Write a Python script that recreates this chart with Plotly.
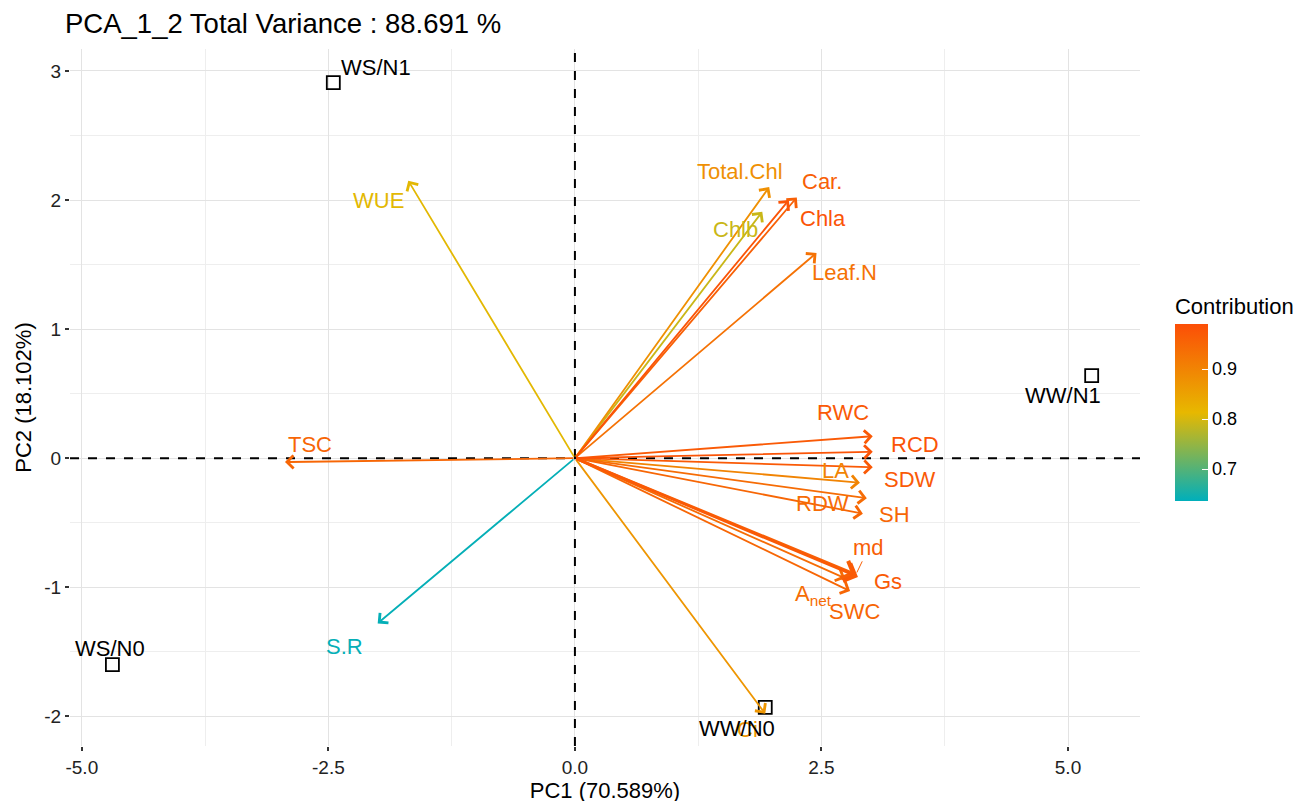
import plotly.graph_objects as go
from plotly.colors import sample_colorscale

# ---------------- data ----------------
samples = ["WS/N1", "WW/N1", "WS/N0", "WW/N0"]
sample_pc1 = [-2.45, 5.24, -4.69, 1.93]
sample_pc2 = [2.91, 0.64, -1.60, -1.93]

variables = ["WUE", "Total.Chl", "Car.", "Chla", "Chlb", "Leaf.N", "RWC", "RCD",
             "SDW", "LA", "RDW", "SH", "md", "Gs", "SWC", "A<sub>net</sub>",
             "TSC", "S.R", "Ci"]
var_pc1 = [-1.69, 1.97, 2.25, 2.17, 1.90, 2.45, 3.02, 3.02,
           3.02, 2.89, 2.96, 2.92, 2.85, 2.87, 2.79, 2.74,
           -2.94, -2.00, 1.93]
var_pc2 = [2.15, 2.10, 2.02, 2.00, 1.91, 1.59, 0.17, 0.05,
           -0.07, -0.19, -0.31, -0.43, -0.90, -0.92, -1.03, -0.93,
           -0.03, -1.28, -1.98]
contribution = [0.81, 0.88, 0.96, 0.98, 0.79, 0.93, 0.97, 0.98,
                0.97, 0.90, 0.94, 0.95, 0.96, 0.97, 0.95, 0.94,
                0.95, 0.64, 0.87]

x_tickvals = [-5.0, -2.5, 0.0, 2.5, 5.0]
x_ticktext = ["-5.0", "-2.5", "0.0", "2.5", "5.0"]
y_tickvals = [-2, -1, 0, 1, 2, 3]
y_ticktext = ["-2", "-1", "0", "1", "2", "3"]
cbar_ticks = [0.7, 0.8, 0.9]

# ---------------- styles (pixel offsets of labels from points) ----------------
var_label_dx = [-30, -29, 25, 34, -27, 28, -30, 42, 37, -24, -44, 32, 13, 30, 4, -32, 25, -33, -18]
var_label_dy = [-20, 16, 16, -18, -18, -20, 24, 7, -12, 12, -5, -1, 27, -5, -20, -17, 18, -23, -16]
sample_label_dx = [43, -29, -2, -28]
sample_label_dy = [15, -20, 16, -21]

CMIN, CMAX = 0.636, 0.99
cscale = [[0.0, "#00AFBB"], [0.5, "#E7B800"], [1.0, "#FC4E07"]]
norm = [(c - CMIN) / (CMAX - CMIN) for c in contribution]
norm = [min(1, max(0, v)) for v in norm]
colors = sample_colorscale(cscale, norm)

FONT = "Liberation Sans, Arial, sans-serif"
LABEL_SIZE = 22

fig = go.Figure()

# colour bar carrier (invisible markers at arrow tips)
fig.add_trace(go.Scatter(
    x=var_pc1, y=var_pc2, mode="markers", hoverinfo="skip", showlegend=False,
    marker=dict(size=1, opacity=0, color=contribution, colorscale=cscale,
                cmin=CMIN, cmax=CMAX, showscale=True,
                colorbar=dict(
                    title=dict(text="Contribution", side="top",
                               font=dict(size=22, color="black", family=FONT)),
                    tickvals=cbar_ticks, ticktext=[str(t) for t in cbar_ticks],
                    tickfont=dict(size=18, color="black", family=FONT),
                    ticks="inside", tickcolor="white", ticklen=6,
                    thickness=33, lenmode="pixels", len=207, xpad=0, ypad=0,
                    x=1.0327, xanchor="left", y=0.5, yanchor="middle",
                    outlinewidth=0))))

# sample points
fig.add_trace(go.Scatter(
    x=sample_pc1, y=sample_pc2, mode="markers", showlegend=False,
    marker=dict(symbol="square-open", size=13, color="black", line=dict(width=1.8))))

annotations = []
# variable arrows
order = sorted(range(len(variables)), key=lambda i: contribution[i])
for i in order:
    w = 2.6 if variables[i] in ("md", "Gs") else 1.8
    annotations.append(dict(
        x=var_pc1[i], y=var_pc2[i], ax=0, ay=0, xref="x", yref="y",
        axref="x", ayref="y", text="", showarrow=True, arrowhead=4,
        arrowsize=1.4, arrowwidth=w, arrowcolor=colors[i], standoff=0))
# variable labels
for i, v in enumerate(variables):
    if v == "md":
        annotations.append(dict(
            x=var_pc1[i], y=var_pc2[i], xref="x", yref="y", text=v,
            showarrow=True, arrowhead=0, arrowwidth=1, arrowcolor=colors[i],
            ax=var_label_dx[i], ay=-var_label_dy[i], standoff=2,
            font=dict(size=LABEL_SIZE, color=colors[i], family=FONT)))
    else:
        annotations.append(dict(
            x=var_pc1[i], y=var_pc2[i], xref="x", yref="y", text=v,
            showarrow=False, xshift=var_label_dx[i], yshift=var_label_dy[i],
            font=dict(size=LABEL_SIZE, color=colors[i], family=FONT)))
# sample labels
for i, s in enumerate(samples):
    annotations.append(dict(
        x=sample_pc1[i], y=sample_pc2[i], xref="x", yref="y", text=s,
        showarrow=False, xshift=sample_label_dx[i], yshift=sample_label_dy[i],
        font=dict(size=LABEL_SIZE, color="black", family=FONT)))

shapes = [
    dict(type="line", xref="x", yref="paper", x0=0, x1=0, y0=0, y1=1,
         line=dict(color="black", width=2, dash="dash"), layer="above"),
    dict(type="line", xref="paper", yref="y", x0=0, x1=1, y0=0, y1=0,
         line=dict(color="black", width=2, dash="dash"), layer="above"),
]

fig.update_layout(
    width=1304, height=801,
    margin=dict(l=62, r=172, t=41, b=63, autoexpand=False),
    paper_bgcolor="white", plot_bgcolor="white",
    font=dict(family=FONT, color="black"),
    title=dict(text="PCA_1_2 Total Variance : 88.691 %", x=57 / 1304, xanchor="left",
               xref="container", y=1 - 15 / 801, yanchor="middle", yref="container",
               font=dict(size=27.5, color="black", family=FONT), automargin=False),
    xaxis=dict(range=[-5.12, 5.73], tickvals=x_tickvals, ticktext=x_ticktext,
               showgrid=True, gridcolor="#e3e3e3", gridwidth=1.3, zeroline=False,
               minor=dict(dtick=1.25, showgrid=True, gridcolor="#eeeeee", gridwidth=1),
               ticks="outside", ticklen=4, tickcolor="#333333", tickwidth=1.5,
               tickfont=dict(size=19, color="#222222"), automargin=False,
               title=dict(text="PC1 (70.589%)", font=dict(size=22), standoff=2),
               showline=False),
    yaxis=dict(range=[-2.23, 3.17], tickvals=y_tickvals, ticktext=y_ticktext,
               showgrid=True, gridcolor="#e3e3e3", gridwidth=1.3, zeroline=False,
               minor=dict(dtick=0.5, showgrid=True, gridcolor="#eeeeee", gridwidth=1),
               ticks="outside", ticklen=4, tickcolor="#333333", tickwidth=1.5,
               tickfont=dict(size=19, color="#222222"), automargin=False,
               title=dict(text="PC2 (18.102%)", font=dict(size=22), standoff=6),
               showline=False),
    annotations=annotations, shapes=shapes,
)

fig.write_html("out.html")
